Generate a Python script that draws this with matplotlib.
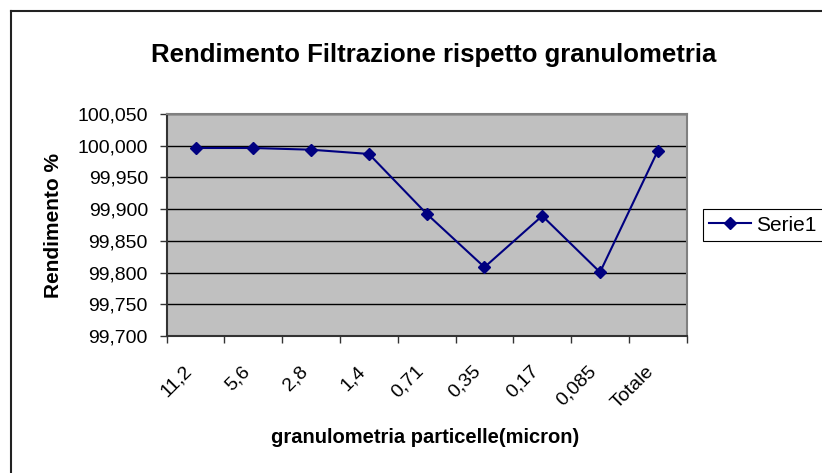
import matplotlib.pyplot as plt
import matplotlib.transforms as mtransforms
import numpy as np
from matplotlib.lines import Line2D

plt.rcParams['font.family'] = ['Liberation Sans', 'DejaVu Sans']
plt.rcParams['font.size'] = 14

categorie = ['11,2', '5,6', '2,8', '1,4', '0,71', '0,35', '0,17', '0,085', 'Totale']
rendimento = [99.9964, 99.9964, 99.9937, 99.987, 99.8926, 99.8085, 99.8894, 99.8006, 99.992]
y_ticks = [99.70, 99.75, 99.80, 99.85, 99.90, 99.95, 100.00, 100.05]
y_labels = ['99,700', '99,750', '99,800', '99,850', '99,900', '99,950', '100,000', '100,050']

fig = plt.figure(figsize=(8.22, 4.73), dpi=100)
ax = fig.add_axes([0.2028, 0.2896, 0.6326, 0.4694])
ax.set_facecolor('#C0C0C0')

x = np.arange(len(categorie))
ax.plot(x, rendimento, color='#000080', linewidth=1.5, marker='D', markersize=6.5,
        label='Serie1', zorder=3)

ax.set_xlim(-0.5, len(categorie) - 0.5)
ax.set_ylim(99.70, 100.05)
ax.set_yticks(y_ticks)
ax.set_yticklabels(y_labels)
ax.yaxis.grid(True, color='black', linewidth=1)
ax.set_axisbelow(True)

ax.set_xticks(x)
ax.set_xticklabels(categorie, rotation=45, ha='right', rotation_mode='anchor')
ax.set_xticks(np.arange(-0.5, len(categorie)), minor=True)
ax.tick_params(axis='x', which='major', length=0, pad=14)
ax.tick_params(axis='x', which='minor', length=5, width=1, color='#333333')
ax.tick_params(axis='y', length=5, width=1, color='#333333', pad=8.5)

# sposta le etichette dell'asse x un po' a sinistra e in basso
offset = mtransforms.ScaledTranslation(-0.12, -0.07, fig.dpi_scale_trans)
for lab in ax.get_xticklabels():
    lab.set_transform(lab.get_transform() + offset)

for s in ['left', 'bottom']:
    ax.spines[s].set_color('#333333')
    ax.spines[s].set_linewidth(1.5)
for s in ['top', 'right']:
    ax.spines[s].set_color('#808080')
    ax.spines[s].set_linewidth(1.5)

fig.text(0.0645, 0.524, 'Rendimento %', rotation=90, ha='center', va='center',
         fontweight='bold', fontsize=15)
fig.text(0.5177, 0.074, 'granulometria particelle(micron)', ha='center', va='center',
         fontweight='bold', fontsize=14.5)
fig.text(0.527, 0.884, 'Rendimento Filtrazione rispetto granulometria',
         ha='center', va='center', fontweight='bold', fontsize=18.5)

leg = fig.legend(loc='center left', bbox_to_anchor=(0.855, 0.524), frameon=True,
                 fancybox=False, edgecolor='black', framealpha=1, borderpad=0.3,
                 borderaxespad=0, handlelength=2.0, handletextpad=0.25, fontsize=15)
leg.get_frame().set_linewidth(0.8)

# cornice del grafico (solo lato sinistro e superiore visibili)
bx, by = 11 / 822, 1 - 11 / 473
fig.add_artist(Line2D([bx, bx], [0, by], transform=fig.transFigure, color='#222222', linewidth=1.5))
fig.add_artist(Line2D([bx, 1], [by, by], transform=fig.transFigure, color='#222222', linewidth=1.5))

fig.savefig('out.png', dpi=100)
